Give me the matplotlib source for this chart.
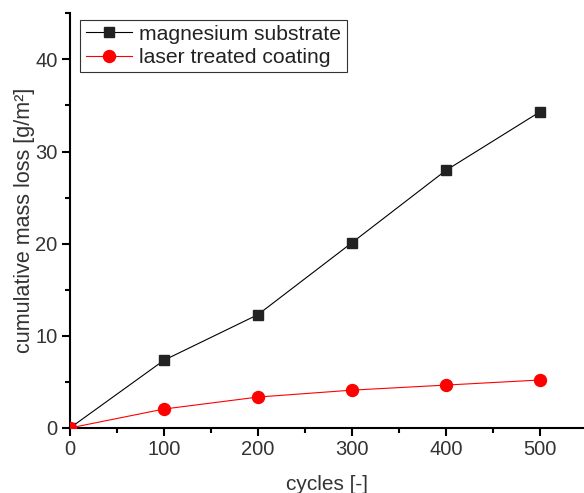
import matplotlib
matplotlib.use("Agg")
import matplotlib.pyplot as plt
from matplotlib.ticker import MultipleLocator

plt.rcParams['font.family'] = ['Liberation Sans', 'DejaVu Sans']

cycles = [0, 100, 200, 300, 400, 500]
magnesium = [0.0, 7.35, 12.3, 20.1, 27.95, 34.3]
laser = [0.0, 2.05, 3.35, 4.1, 4.65, 5.2]

fig = plt.figure(figsize=(5.84, 4.93), dpi=100)
ax = fig.add_axes([0.12, 0.132, 0.88, 0.841])

ax.plot(cycles, magnesium, color='black', lw=0.8, marker='s', ms=7.0,
        markerfacecolor='#222222', markeredgecolor='#222222', label='magnesium substrate', zorder=3)
ax.plot(cycles, laser, color='red', lw=0.8, marker='o', ms=8.6,
        markerfacecolor='red', markeredgecolor='red', label='laser treated coating', zorder=3)

ax.set_xlim(0, 547)
ax.set_ylim(0, 45)
ax.xaxis.set_major_locator(MultipleLocator(100))
ax.xaxis.set_minor_locator(MultipleLocator(50))
ax.yaxis.set_major_locator(MultipleLocator(10))
ax.yaxis.set_minor_locator(MultipleLocator(5))

for s in ['top', 'right']:
    ax.spines[s].set_visible(False)
for s in ['left', 'bottom']:
    ax.spines[s].set_linewidth(1.5)
    ax.spines[s].set_color('black')

ax.tick_params(axis='both', which='major', direction='out', length=6, width=1.5,
               labelsize=14.5, labelcolor='#333333', pad=3)
ax.tick_params(axis='both', which='minor', direction='out', length=3.5, width=1.5)

ax.set_xlabel('cycles [-]', fontsize=15, color='#333333', labelpad=11)
ax.set_ylabel('cumulative mass loss [g/m²]', fontsize=15.5, color='#333333', labelpad=0.5)

leg = ax.legend(loc='upper left', bbox_to_anchor=(0.02, 0.985), fontsize=15.2,
                frameon=True, fancybox=False, edgecolor='#333333', framealpha=1,
                handlelength=2.2, handletextpad=0.35, borderpad=0.25, labelspacing=0.2,
                borderaxespad=0.0)
leg.get_frame().set_linewidth(0.8)
for t in leg.get_texts():
    t.set_color('#222222')

fig.savefig('out.png', dpi=100)
